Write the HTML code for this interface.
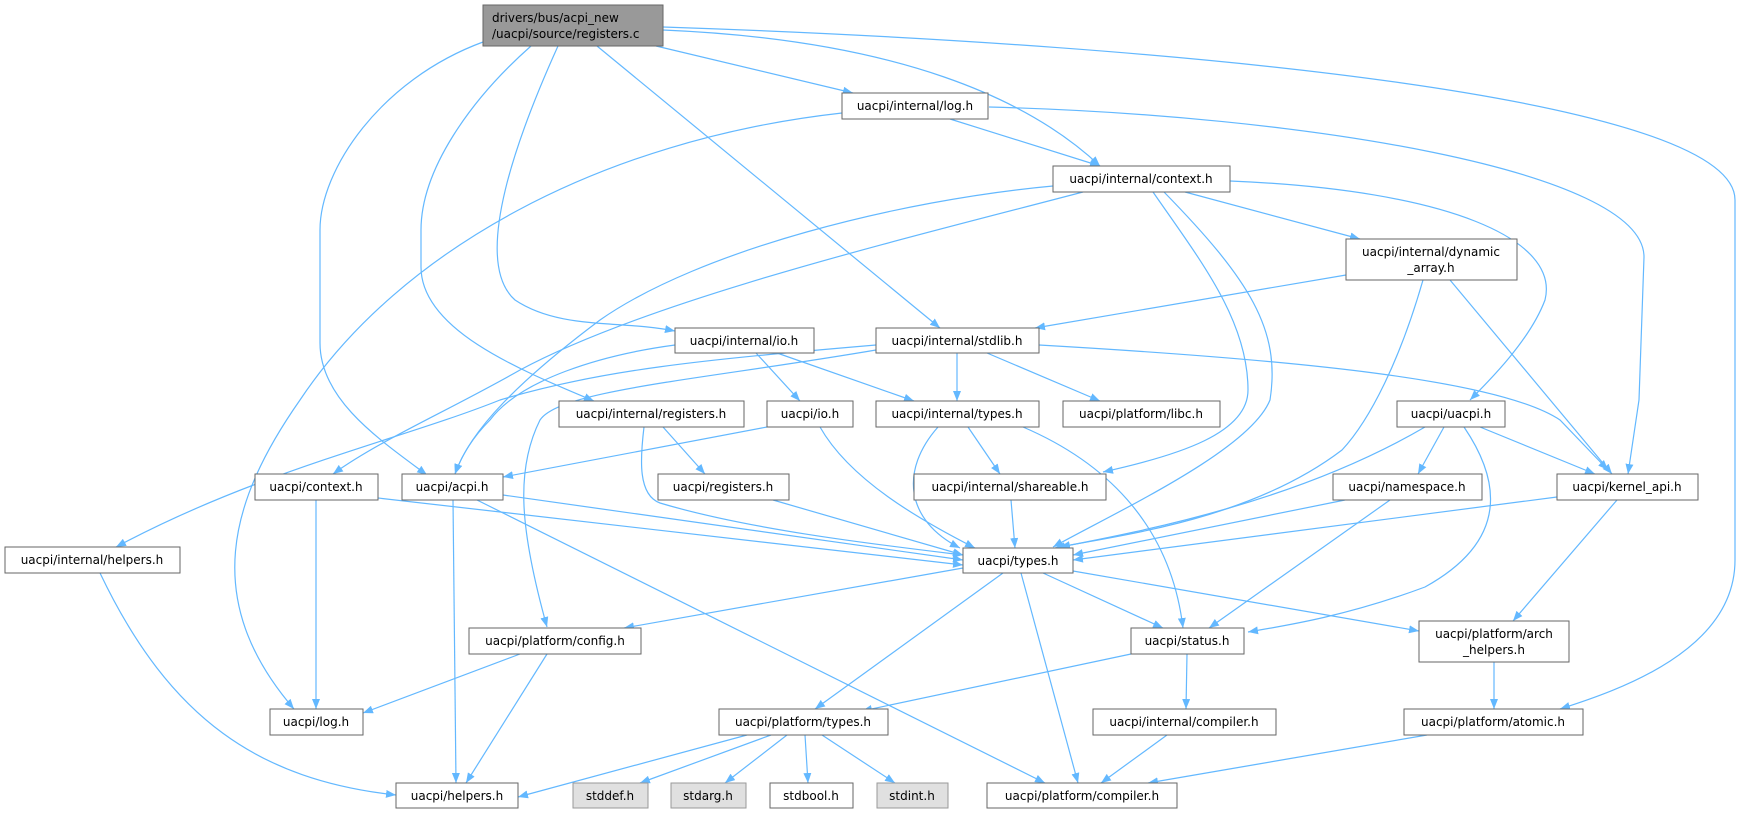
<!DOCTYPE html>
<html><head><meta charset="utf-8"><style>
html,body{margin:0;padding:0;background:#fff;}
svg{display:block;}
text{font-family:"DejaVu Sans","Liberation Sans",sans-serif;font-size:12px;fill:#000;}
.b{fill:#fff;stroke:#666;stroke-width:1;}
.g{fill:#e0e0e0;stroke:#999;stroke-width:1;}
.e{fill:none;stroke:#63b8ff;stroke-width:1.2;marker-end:url(#a);}
</style></head><body>
<svg width="1741" height="813" viewBox="0 0 1741 813" xmlns="http://www.w3.org/2000/svg">
<defs><marker id="a" viewBox="0 0 10 8" refX="10" refY="4" markerWidth="10" markerHeight="8" markerUnits="userSpaceOnUse" orient="auto"><path d="M0,0 L10,4 L0,8 z" fill="#63b8ff"/></marker></defs>
<g>
<path class="e" d="M656,46 L853,93"/>
<path class="e" d="M663,30 C900,40 1030,100 1100,166"/>
<path class="e" d="M663,27 C1200,45 1735,100 1735,200 L1735,560 C1735,650 1620,690 1560,709"/>
<path class="e" d="M597,46 L940,328"/>
<path class="e" d="M558,46 C520,130 470,260 515,300 C560,330 620,320 675,331"/>
<path class="e" d="M531,46 C470,100 421,170 421,230 L421,267 C421,330 520,370 594,401"/>
<path class="e" d="M483,42 C380,80 320,170 320,230 L320,343 C320,400 380,440 427,475"/>
<path class="e" d="M842,113 C600,140 400,250 300,400 C230,500 200,600 294,709"/>
<path class="e" d="M950,119 L1100,166"/>
<path class="e" d="M989,107 C1300,115 1644,170 1644,257 L1639,400 L1628,474"/>
<path class="e" d="M1053,186 C900,200 700,250 600,320 C520,380 470,430 455,474"/>
<path class="e" d="M1083,192 C900,240 650,300 520,370 C450,410 380,440 333,474"/>
<path class="e" d="M1153,192 C1200,260 1248,320 1248,390 C1248,433 1180,455 1103,472"/>
<path class="e" d="M1164,192 C1250,280 1281,330 1270,400 C1250,450 1120,510 1053,547"/>
<path class="e" d="M1185,192 L1360,239"/>
<path class="e" d="M1230,181 C1450,190 1560,240 1545,300 C1530,340 1490,380 1470,400"/>
<path class="e" d="M1346,275 L1035,328"/>
<path class="e" d="M1423,280 C1400,360 1370,420 1342,450 C1250,520 1120,535 1060,547"/>
<path class="e" d="M1450,280 L1612,474"/>
<path class="e" d="M675,345 C600,355 520,380 490,420 C470,440 460,460 455,474"/>
<path class="e" d="M756,353 L800,401"/>
<path class="e" d="M777,353 L914,401"/>
<path class="e" d="M876,345 C700,360 600,370 500,400 C400,440 260,470 116,547"/>
<path class="e" d="M876,350 C700,380 560,390 540,420 C515,470 520,530 547,627"/>
<path class="e" d="M957,353 L957,401"/>
<path class="e" d="M987,353 L1100,401"/>
<path class="e" d="M1039,345 C1300,360 1500,380 1560,420 L1608,470"/>
<path class="e" d="M663,427 L705,474"/>
<path class="e" d="M644,427 C640,460 638,495 660,503 C750,530 880,545 963,555"/>
<path class="e" d="M767,427 L503,477"/>
<path class="e" d="M820,427 C850,480 920,520 975,548"/>
<path class="e" d="M968,427 L1000,474"/>
<path class="e" d="M938,427 C900,470 905,520 960,548"/>
<path class="e" d="M1023,427 C1100,460 1170,520 1183,628"/>
<path class="e" d="M1444,427 L1418,474"/>
<path class="e" d="M1425,427 C1300,500 1150,530 1055,548"/>
<path class="e" d="M1464,427 C1500,480 1510,540 1425,587 C1350,615 1290,625 1248,632"/>
<path class="e" d="M1480,427 L1595,474"/>
<path class="e" d="M316,500 L316,709"/>
<path class="e" d="M378,498 L963,565"/>
<path class="e" d="M453,500 L456,783"/>
<path class="e" d="M503,495 L963,560"/>
<path class="e" d="M477,500 L1045,783"/>
<path class="e" d="M773,500 L963,555"/>
<path class="e" d="M1011,500 L1015,548"/>
<path class="e" d="M1345,500 L1073,555"/>
<path class="e" d="M1390,500 L1209,628"/>
<path class="e" d="M1557,497 L1073,560"/>
<path class="e" d="M1617,500 L1513,621"/>
<path class="e" d="M100,573 C170,720 260,780 396,795"/>
<path class="e" d="M520,654 L363,713"/>
<path class="e" d="M547,654 L466,783"/>
<path class="e" d="M963,568 L624,628"/>
<path class="e" d="M1003,573 L815,709"/>
<path class="e" d="M1043,573 L1163,628"/>
<path class="e" d="M1021,573 L1078,783"/>
<path class="e" d="M1073,571 L1419,631"/>
<path class="e" d="M1131,654 L862,711"/>
<path class="e" d="M1187,654 L1186,709"/>
<path class="e" d="M1494,662 L1494,709"/>
<path class="e" d="M1427,735 L1148,783"/>
<path class="e" d="M1167,735 L1101,783"/>
<path class="e" d="M747,735 L518,797"/>
<path class="e" d="M771,735 L640,783"/>
<path class="e" d="M787,735 L725,783"/>
<path class="e" d="M805,735 L808,783"/>
<path class="e" d="M822,735 L895,783"/>
</g>
<g>
<rect x="483" y="5" width="180" height="41" fill="#999" stroke="#666"/>
<text x="492" y="22">drivers/bus/acpi_new</text>
<text x="492" y="38">/uacpi/source/registers.c</text>

<rect class="b" x="842" y="93" width="146" height="26"/><text x="915" y="110" text-anchor="middle">uacpi/internal/log.h</text>
<rect class="b" x="1053" y="166" width="177" height="26"/><text x="1141" y="183" text-anchor="middle">uacpi/internal/context.h</text>
<rect class="b" x="1346" y="239" width="171" height="41"/><text x="1431" y="256" text-anchor="middle">uacpi/internal/dynamic</text><text x="1431" y="272" text-anchor="middle">_array.h</text>
<rect class="b" x="675" y="328" width="139" height="25"/><text x="744" y="345" text-anchor="middle">uacpi/internal/io.h</text>
<rect class="b" x="876" y="328" width="163" height="25"/><text x="957" y="345" text-anchor="middle">uacpi/internal/stdlib.h</text>
<rect class="b" x="559" y="401" width="185" height="26"/><text x="651" y="418" text-anchor="middle">uacpi/internal/registers.h</text>
<rect class="b" x="767" y="401" width="86" height="26"/><text x="810" y="418" text-anchor="middle">uacpi/io.h</text>
<rect class="b" x="876" y="401" width="163" height="26"/><text x="957" y="418" text-anchor="middle">uacpi/internal/types.h</text>
<rect class="b" x="1063" y="401" width="157" height="26"/><text x="1141" y="418" text-anchor="middle">uacpi/platform/libc.h</text>
<rect class="b" x="1397" y="401" width="108" height="26"/><text x="1451" y="418" text-anchor="middle">uacpi/uacpi.h</text>
<rect class="b" x="5" y="547" width="175" height="26"/><text x="92" y="564" text-anchor="middle">uacpi/internal/helpers.h</text>
<rect class="b" x="255" y="474" width="123" height="26"/><text x="316" y="491" text-anchor="middle">uacpi/context.h</text>
<rect class="b" x="402" y="474" width="101" height="26"/><text x="452" y="491" text-anchor="middle">uacpi/acpi.h</text>
<rect class="b" x="658" y="474" width="131" height="26"/><text x="723" y="491" text-anchor="middle">uacpi/registers.h</text>
<rect class="b" x="914" y="474" width="192" height="26"/><text x="1010" y="491" text-anchor="middle">uacpi/internal/shareable.h</text>
<rect class="b" x="1333" y="474" width="149" height="26"/><text x="1407" y="491" text-anchor="middle">uacpi/namespace.h</text>
<rect class="b" x="1557" y="474" width="141" height="26"/><text x="1627" y="491" text-anchor="middle">uacpi/kernel_api.h</text>
<rect class="b" x="963" y="548" width="110" height="25"/><text x="1018" y="565" text-anchor="middle">uacpi/types.h</text>
<rect class="b" x="469" y="628" width="172" height="26"/><text x="555" y="645" text-anchor="middle">uacpi/platform/config.h</text>
<rect class="b" x="1131" y="628" width="113" height="26"/><text x="1187" y="645" text-anchor="middle">uacpi/status.h</text>
<rect class="b" x="1419" y="621" width="150" height="41"/><text x="1494" y="638" text-anchor="middle">uacpi/platform/arch</text><text x="1494" y="654" text-anchor="middle">_helpers.h</text>
<rect class="b" x="270" y="709" width="93" height="26"/><text x="316" y="726" text-anchor="middle">uacpi/log.h</text>
<rect class="b" x="719" y="709" width="169" height="26"/><text x="803" y="726" text-anchor="middle">uacpi/platform/types.h</text>
<rect class="b" x="1093" y="709" width="183" height="26"/><text x="1184" y="726" text-anchor="middle">uacpi/internal/compiler.h</text>
<rect class="b" x="1404" y="709" width="179" height="26"/><text x="1493" y="726" text-anchor="middle">uacpi/platform/atomic.h</text>
<rect class="b" x="396" y="783" width="122" height="25"/><text x="457" y="800" text-anchor="middle">uacpi/helpers.h</text>
<rect class="g" x="573" y="783" width="75" height="25"/><text x="610" y="800" text-anchor="middle">stddef.h</text>
<rect class="g" x="671" y="783" width="75" height="25"/><text x="708" y="800" text-anchor="middle">stdarg.h</text>
<rect class="b" x="770" y="783" width="83" height="25"/><text x="811" y="800" text-anchor="middle">stdbool.h</text>
<rect class="g" x="877" y="783" width="71" height="25"/><text x="912" y="800" text-anchor="middle">stdint.h</text>
<rect class="b" x="987" y="783" width="190" height="25"/><text x="1082" y="800" text-anchor="middle">uacpi/platform/compiler.h</text>
</g>
</svg>
</body></html>
